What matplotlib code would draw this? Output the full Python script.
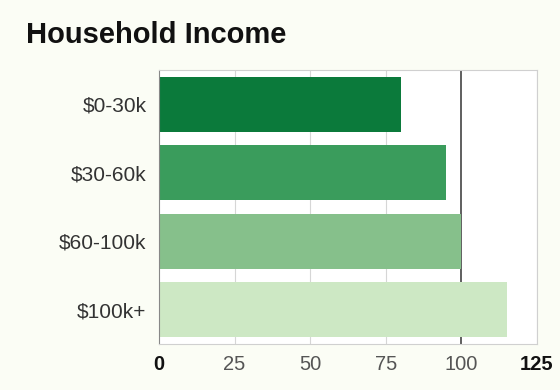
import matplotlib.pyplot as plt

# data
categories = ["$0-30k", "$30-60k", "$60-100k", "$100k+"]
values = [80, 95, 100, 115]
colors = ["#0b7a3b", "#3a9c5c", "#86c08b", "#cde8c4"]
xticks = [0, 25, 50, 75, 100, 125]

plt.rcParams['font.family'] = ['Liberation Sans', 'DejaVu Sans']

fig = plt.figure(figsize=(5.6, 3.9), dpi=100)
fig.patch.set_facecolor("#fbfdf5")
ax = fig.add_axes([159/560, 1 - 344/390, (537-159)/560, (344-70)/390])
ax.set_facecolor("white")

y = list(range(len(categories)))
ax.barh(y, values, height=0.8, color=colors, zorder=2)
ax.set_ylim(len(categories) - 0.5, -0.5)
ax.set_xlim(0, 125)

# grid lines, the 100 line darker
for t in xticks[1:]:
    ax.axvline(t, color="#444444" if t == 100 else "#d6d6d6",
               lw=1.2 if t == 100 else 0.8, zorder=1)

ax.set_xticks(xticks)
ax.set_xticklabels([str(t) for t in xticks], fontsize=14.5, color="#555555")
for lbl in ax.get_xticklabels():
    if lbl.get_text() in ("0", "125"):
        lbl.set_fontweight("bold")
        lbl.set_color("#111111")
ax.set_yticks(y)
ax.set_yticklabels(categories, fontsize=15, color="#333333")
ax.tick_params(length=0)
ax.tick_params(axis="y", pad=9)
ax.tick_params(axis="x", pad=8)

for side in ["top", "right", "bottom"]:
    ax.spines[side].set_color("#d0d0d0")
    ax.spines[side].set_linewidth(0.8)
ax.spines["left"].set_color("#888888")

fig.text(26/560, 1 - 35/390, "Household Income", fontsize=21, fontweight="bold",
         color="#111111", va="center", ha="left")

fig.savefig("out.png", dpi=100, facecolor=fig.get_facecolor())
